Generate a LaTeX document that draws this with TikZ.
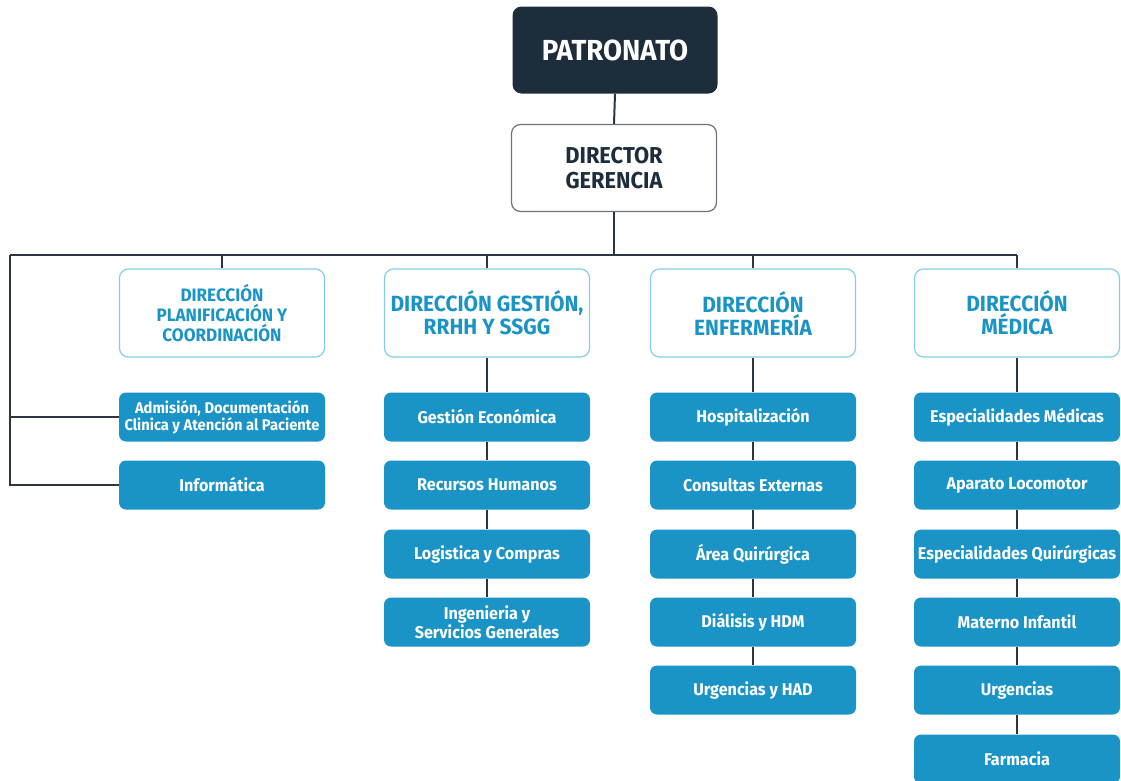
\documentclass[tikz,border=0pt]{standalone}
\usepackage{fontspec}
\setmainfont{Fira Sans}[FakeStretch=0.95]
\definecolor{navy}{HTML}{1E2D3B}
\definecolor{azul}{HTML}{1A94C6}
\definecolor{azulclaro}{HTML}{86CDEA}
\definecolor{linea}{HTML}{2B3640}
\tikzset{
  top/.style={rectangle, rounded corners=9pt, fill=navy, text=white, minimum width=205pt, minimum height=87pt, font=\bfseries\fontsize{29}{32}\selectfont},
  gerencia/.style={rectangle, rounded corners=9pt, draw=linea!70, line width=1.2pt, fill=white, text=navy, minimum width=205pt, minimum height=87pt, align=center, font=\bfseries\fontsize{23}{25}\selectfont},
  direccion/.style={rectangle, rounded corners=9pt, draw=azulclaro, line width=1.2pt, fill=white, text=azul, minimum width=205pt, minimum height=88pt, inner sep=2pt, align=center, font=\bfseries\fontsize{22}{23}\selectfont},
  area/.style={rectangle, rounded corners=7pt, fill=azul, text=white, minimum width=206pt, minimum height=49pt, inner sep=1pt, align=center, font=\bfseries\fontsize{17}{17}\selectfont},
  conn/.style={draw=linea, line width=2pt}
}
\begin{document}
\begin{tikzpicture}[x=1pt,y=-1pt]
\useasboundingbox (0,0) rectangle (1121,780);
\node[top] (pat) at (615,50) {PATRONATO};
\node[gerencia] (dir) at (614,168) {DIRECTOR\\GERENCIA};
\coordinate (busL) at (10,255);
\coordinate (busR) at (1017,255);
\node[direccion, font=\bfseries\fontsize{18}{20}\selectfont] (d1) at (222,313) {DIRECCIÓN\\PLANIFICACIÓN Y\\COORDINACIÓN};
\node[direccion] (d2) at (487,313) {DIRECCIÓN GESTIÓN,\\RRHH Y SSGG};
\node[direccion] (d3) at (753,313) {DIRECCIÓN\\ENFERMERÍA};
\node[direccion] (d4) at (1017,313) {DIRECCIÓN\\MÉDICA};
% planificacion
\node[area, font=\bfseries\fontsize{15.5}{15}\selectfont] (adm) at (222,417) {Admisión, Documentación\\Clinica y Atención al Paciente};
\node[area] (inf) at (222,485) {Informática};
% gestion
\node[area] (g1) at (487,417) {Gestión Económica};
\node[area] (g2) at (487,485) {Recursos Humanos};
\node[area] (g3) at (487,554) {Logistica y Compras};
\node[area] (g4) at (487,622) {Ingenieria y\\Servicios Generales};
% enfermeria
\node[area] (e1) at (753,417) {Hospitalización};
\node[area] (e2) at (753,485) {Consultas Externas};
\node[area] (e3) at (753,554) {Área Quirúrgica};
\node[area] (e4) at (753,622) {Diálisis y HDM};
\node[area] (e5) at (753,690) {Urgencias y HAD};
% medica
\node[area] (m1) at (1017,417) {Especialidades Médicas};
\node[area] (m2) at (1017,485) {Aparato Locomotor};
\node[area] (m3) at (1017,554) {Especialidades Quirúrgicas};
\node[area] (m4) at (1017,622) {Materno Infantil};
\node[area] (m5) at (1017,690) {Urgencias};
\node[area] (m6) at (1017,759) {Farmacia};

\draw[conn] (pat.south) -- (dir.north);
\draw[conn] (dir.south) -- (dir.south |- busL);
\draw[conn] (busL) -- (busR);
\foreach \d in {d1,d2,d3,d4}
  \draw[conn] (\d.north) -- (\d.north |- busL);
\draw[conn] (busL) |- (inf.west);
\draw[conn] (adm.west) -- (adm.west -| busL);
\draw[conn] (d2.south) -- (g1.north);
\draw[conn] (d3.south) -- (e1.north);
\draw[conn] (d4.south) -- (m1.north);
\foreach \a/\b in {g1/g2,g2/g3,g3/g4,e1/e2,e2/e3,e3/e4,e4/e5,m1/m2,m2/m3,m3/m4,m4/m5,m5/m6}
  \draw[conn] (\a.south) -- (\b.north);
\end{tikzpicture}
\end{document}
